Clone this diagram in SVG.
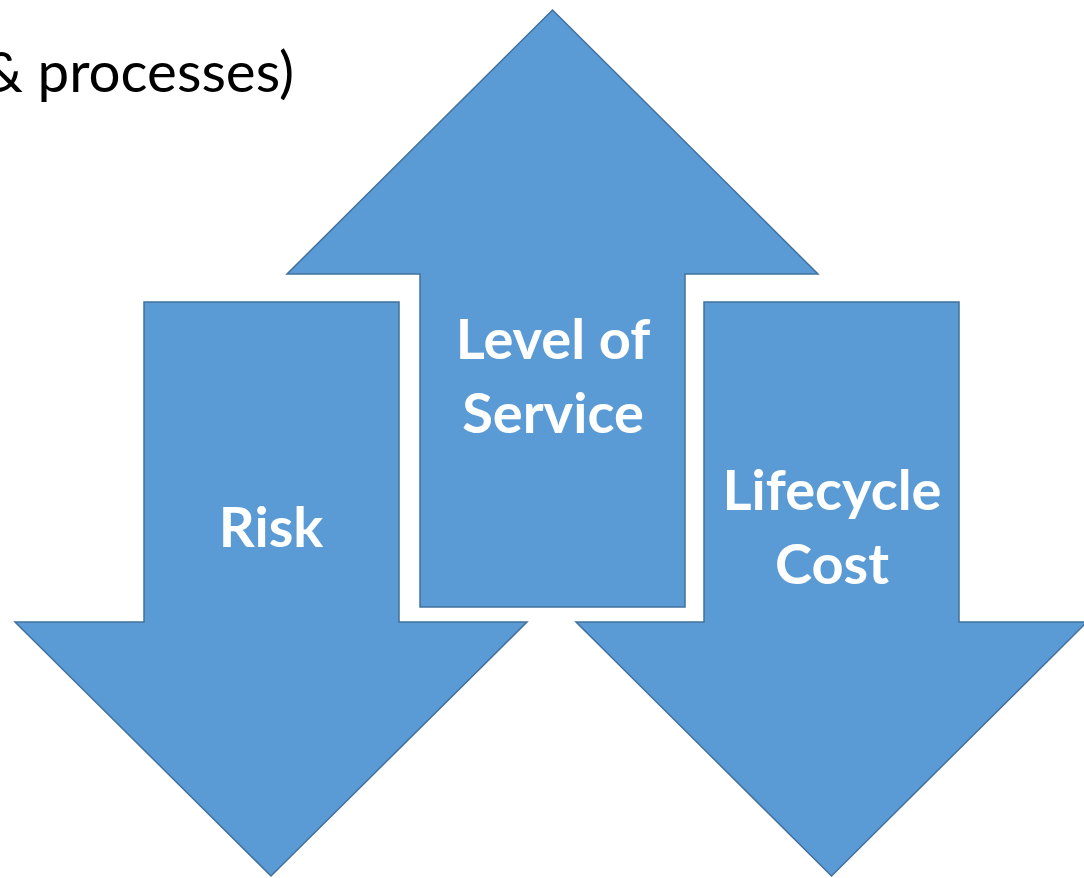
<svg xmlns="http://www.w3.org/2000/svg" width="1084" height="878" viewBox="0 0 1084 878">
<style>
.arrow{fill:#5B9BD5;stroke:#41719C;stroke-width:1.5;stroke-linejoin:miter}
.lbl{fill:#FFFFFF;font-family:Lato,"Open Sans","Liberation Sans",sans-serif;font-weight:bold;font-size:56px;text-anchor:middle}
.title{fill:#000000;font-family:Lato,"Open Sans","Liberation Sans",sans-serif;font-size:56.5px;text-anchor:end}
</style>
<rect width="1084" height="878" fill="#FFFFFF"/>
<text class="title" x="294" y="92">&amp; processes)</text>
<g id="level-of-service">
<polygon class="arrow" points="552.5,10 818,274 685,274 685,607 420,607 420,274 287,274"/>
<text class="lbl" x="553" y="359">Level of</text>
<text class="lbl" x="553" y="433">Service</text>
</g>
<g id="risk">
<polygon class="arrow" points="144,302 399,302 399,622 527,622 271,876 15,622 144,622"/>
<text class="lbl" x="271" y="547">Risk</text>
</g>
<g id="lifecycle-cost">
<polygon class="arrow" points="704,302 959,302 959,622 1087,622 831.5,876 576,622 704,622"/>
<text class="lbl" x="832" y="510">Lifecycle</text>
<text class="lbl" x="832" y="584">Cost</text>
</g>
<g id="connectors"/>
</svg>
